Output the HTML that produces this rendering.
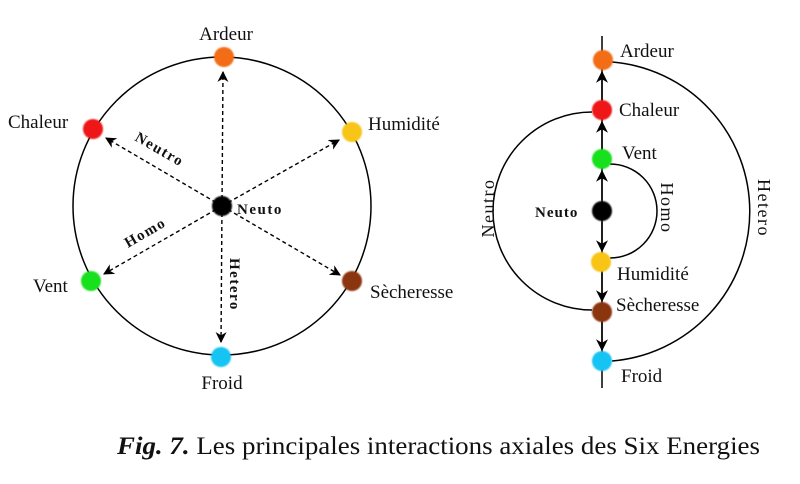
<!DOCTYPE html>
<html><head><meta charset="utf-8"><style>
html,body{margin:0;padding:0;background:#fff;}
svg{display:block;}
svg text{font-family:"Liberation Serif","Times New Roman",Times,serif;fill:#111;}
</style></head><body>
<svg width="800" height="484" viewBox="0 0 800 484" xmlns="http://www.w3.org/2000/svg" font-family="Liberation Serif, serif">
<defs>
<marker id="a" viewBox="0 0 10 10" refX="9" refY="5" markerWidth="11" markerHeight="11" orient="auto" markerUnits="userSpaceOnUse"><path d="M0,0 L10,5 L0,10 L3,5 z" fill="#000"/></marker>
<marker id="b" viewBox="0 0 10 10" refX="9" refY="5" markerWidth="12" markerHeight="12" orient="auto" markerUnits="userSpaceOnUse"><path d="M0,0 L10,5 L0,10 L3,5 z" fill="#000"/></marker>
<filter id="f"><feGaussianBlur stdDeviation="0.8"/></filter>
</defs>
<circle cx="222" cy="206" r="149" fill="none" stroke="#000" stroke-width="1.5"/>
<g stroke="#000" stroke-width="1.4" stroke-dasharray="4,3" fill="none">
<line x1="222" y1="206" x2="223" y2="72" marker-end="url(#a)"/>
<line x1="222" y1="206" x2="221" y2="342" marker-end="url(#a)"/>
<line x1="222" y1="206" x2="106" y2="138" marker-end="url(#a)"/>
<line x1="222" y1="206" x2="339" y2="140" marker-end="url(#a)"/>
<line x1="222" y1="206" x2="104" y2="274" marker-end="url(#a)"/>
<line x1="222" y1="206" x2="340" y2="275" marker-end="url(#a)"/>
</g>
<g filter="url(#f)">
<circle cx="224" cy="57" r="10" fill="#f26d14"/>
<circle cx="93" cy="129" r="10" fill="#ee1313"/>
<circle cx="352" cy="132" r="10" fill="#f8c415"/>
<circle cx="91" cy="281" r="10" fill="#17e11a"/>
<circle cx="352" cy="281" r="10" fill="#8a3410"/>
<circle cx="221" cy="357" r="10" fill="#19c4f3"/>
<circle cx="222" cy="206" r="10" fill="#000"/>
</g>
<g font-size="19">
<text x="226" y="40" text-anchor="middle">Ardeur</text>
<text x="8" y="128">Chaleur</text>
<text x="368" y="130">Humidité</text>
<text x="33" y="292">Vent</text>
<text x="370" y="298">Sècheresse</text>
<text x="222" y="389" text-anchor="middle">Froid</text>
</g>
<g font-size="15" font-weight="bold" letter-spacing="1.5">
<text x="237" y="214">Neuto</text>
<text transform="translate(134,140) rotate(30)">Neutro</text>
<text transform="translate(128,248) rotate(-30)">Homo</text>
<text transform="translate(230,258) rotate(90)">Hetero</text>
</g>
<line x1="602" y1="36" x2="602" y2="388" stroke="#000" stroke-width="1.5"/>
<g stroke="#000" stroke-width="1.5" fill="none">
<line x1="602" y1="100" x2="602" y2="72" marker-end="url(#b)"/>
<line x1="602" y1="150" x2="602" y2="122" marker-end="url(#b)"/>
<line x1="602" y1="200" x2="602" y2="171" marker-end="url(#b)"/>
<line x1="602" y1="222" x2="602" y2="251" marker-end="url(#b)"/>
<line x1="602" y1="272" x2="602" y2="301" marker-end="url(#b)"/>
<line x1="602" y1="322" x2="602" y2="350" marker-end="url(#b)"/>
<path d="M612,62 A150,150 0 0 1 612,361"/>
<path d="M592,112 A99,99 0 0 0 592,310"/>
<path d="M610,164 A47,47 0 0 1 610,258"/>
</g>
<g filter="url(#f)">
<circle cx="603" cy="60" r="10" fill="#f26d14"/>
<circle cx="602" cy="110" r="10" fill="#ee1313"/>
<circle cx="602" cy="159" r="10" fill="#17e11a"/>
<circle cx="602" cy="211" r="10" fill="#000"/>
<circle cx="601" cy="262" r="10" fill="#f8c415"/>
<circle cx="602" cy="312" r="10" fill="#8a3410"/>
<circle cx="602" cy="361" r="10" fill="#19c4f3"/>
</g>
<g font-size="19">
<text x="620" y="57">Ardeur</text>
<text x="619" y="116">Chaleur</text>
<text x="622" y="159">Vent</text>
<text x="617" y="280">Humidité</text>
<text x="616" y="311">Sècheresse</text>
<text x="621" y="382">Froid</text>
</g>
<text x="535" y="217" font-size="15" font-weight="bold" letter-spacing="1">Neuto</text>
<g font-size="18" letter-spacing="1.5" text-anchor="middle">
<text transform="translate(494,208) rotate(-90)">Neutro</text>
<text transform="translate(661,208) rotate(90)">Homo</text>
<text transform="translate(758,208) rotate(90)">Hetero</text>
</g>
<text x="117" y="454" font-size="25" textLength="643" lengthAdjust="spacingAndGlyphs"><tspan font-weight="bold" font-style="italic">Fig.  7.</tspan> Les principales interactions axiales des Six Energies</text>
</svg>
</body></html>
